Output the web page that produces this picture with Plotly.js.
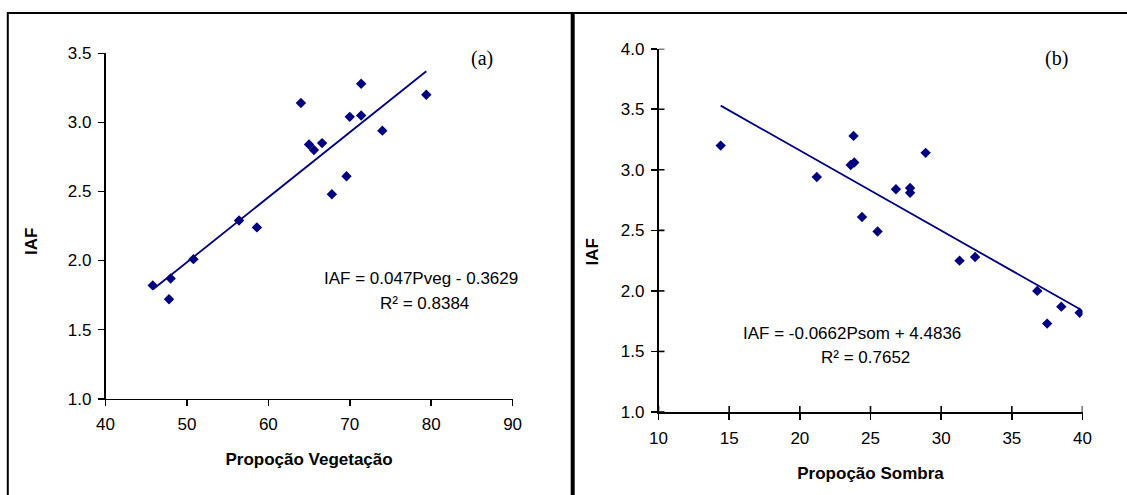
<!DOCTYPE html>
<html>
<head>
<meta charset="utf-8">
<script src="https://cdn.plot.ly/plotly-3.0.1.min.js"></script>
<style>html,body{margin:0;padding:0;background:#fff;}#chart{width:1127px;height:495px;}</style>
</head>
<body>
<div id="chart"></div>
<script>
// Panel (a): IAF vs Propoção Vegetação
const pveg = [45.8, 48.0, 47.8, 50.8, 56.4, 58.6, 64.0, 65.0, 65.6, 66.6, 67.8, 69.6, 70.0, 71.4, 71.4, 74.0, 79.4];
const iafA = [1.82, 1.87, 1.72, 2.01, 2.29, 2.24, 3.14, 2.84, 2.80, 2.85, 2.48, 2.61, 3.04, 3.28, 3.05, 2.94, 3.20];
const trendAx = [45.8, 79.4];
const trendAy = [1.79, 3.37];
// Panel (b): IAF vs Propoção Sombra
const psom = [14.4, 21.2, 23.6, 23.85, 23.8, 24.4, 25.5, 26.8, 27.8, 27.8, 28.9, 31.3, 32.4, 36.8, 37.5, 38.5, 39.8];
const iafB = [3.20, 2.94, 3.04, 3.06, 3.28, 2.61, 2.49, 2.84, 2.85, 2.81, 3.14, 2.25, 2.28, 2.00, 1.73, 1.87, 1.82];
const trendBx = [14.4, 39.8];
const trendBy = [3.53, 1.85];
// tick labels
const xTicksA = [40, 50, 60, 70, 80, 90];
const yTicksA = [1.0, 1.5, 2.0, 2.5, 3.0, 3.5];
const xTicksB = [10, 15, 20, 25, 30, 35, 40];
const yTicksB = [1.0, 1.5, 2.0, 2.5, 3.0, 3.5, 4.0];
const eqA = ["IAF = 0.047Pveg - 0.3629", "R² = 0.8384"];
const eqB = ["IAF = -0.0662Psom + 4.4836", "R² = 0.7652"];
const panelLabels = ["(a)", "(b)"];
const xTitles = ["Propoção Vegetação", "Propoção Sombra"];
const yTitle = "IAF";

const navy = "#000080";
const W = 1127, H = 495;
const px = v => v / W;
const py = v => 1 - v / H;
const sans = "Liberation Sans, Arial, sans-serif";
const tickFont = {family: sans, size: 17, color: "#000"};
const titleFont = {family: sans, size: 17, color: "#000", weight: "bold"};

const traces = [
  {x: trendAx, y: trendAy, mode: "lines", line: {color: navy, width: 1.8}, xaxis: "x", yaxis: "y", hoverinfo: "skip"},
  {x: pveg, y: iafA, mode: "markers", marker: {symbol: "diamond", size: 8, color: navy}, xaxis: "x", yaxis: "y"},
  {x: trendBx, y: trendBy, mode: "lines", line: {color: navy, width: 1.8}, xaxis: "x2", yaxis: "y2", hoverinfo: "skip"},
  {x: psom, y: iafB, mode: "markers", marker: {symbol: "diamond", size: 8, color: navy}, xaxis: "x2", yaxis: "y2"}
];

const axBase = {
  showgrid: false, zeroline: false, showline: true, linecolor: "#000", linewidth: 1.6,
  ticks: "outside", ticklen: 6, tickwidth: 1.6, tickcolor: "#000", tickfont: tickFont,
  fixedrange: true
};

// plot-area pixel boxes
const boxA = {l: 105.5, r: 512.6, t: 53.3, b: 398.7};
const boxB = {l: 658.5, r: 1082.5, t: 48.7, b: 412};

// inner half of the crossing ticks on panel (b)
const innerTicks = [];
xTicksB.forEach(v => innerTicks.push({type: "line", xref: "x2", yref: "paper", x0: v, x1: v, y0: py(boxB.b), y1: py(boxB.b - 6), line: {color: "#000", width: 1.6}}));
yTicksB.forEach(v => innerTicks.push({type: "line", xref: "paper", yref: "y2", x0: px(boxB.l), x1: px(boxB.l + 6), y0: v, y1: v, line: {color: "#000", width: 1.6}}));

const layout = {
  width: W, height: H,
  margin: {l: 0, r: 0, t: 0, b: 0},
  paper_bgcolor: "#fff", plot_bgcolor: "#fff",
  showlegend: false,
  xaxis: Object.assign({}, axBase, {domain: [px(boxA.l), px(boxA.r)], range: [40, 90], tickvals: xTicksA, ticktext: xTicksA.map(String), anchor: "y", ticklabelstandoff: 3, title: {text: xTitles[0], font: titleFont, standoff: 20}}),
  yaxis: Object.assign({}, axBase, {domain: [py(boxA.b), py(boxA.t)], range: [1, 3.5], tickvals: yTicksA, ticktext: yTicksA.map(v => v.toFixed(1)), anchor: "x", ticklabelstandoff: 3}),
  xaxis2: Object.assign({}, axBase, {domain: [px(boxB.l), px(boxB.r)], range: [10, 40], tickvals: xTicksB, ticktext: xTicksB.map(String), anchor: "y2", ticklabelstandoff: 4, title: {text: xTitles[1], font: titleFont, standoff: 20}}),
  yaxis2: Object.assign({}, axBase, {domain: [py(boxB.b), py(boxB.t)], range: [1, 4], tickvals: yTicksB, ticktext: yTicksB.map(v => v.toFixed(1)), anchor: "x2", ticklabelstandoff: 3}),
  annotations: [
    {xref: "paper", yref: "paper", x: px(31), y: py(242), text: yTitle, textangle: -90, showarrow: false, xanchor: "center", yanchor: "middle", font: titleFont},
    {xref: "paper", yref: "paper", x: px(592.5), y: py(252), text: yTitle, textangle: -90, showarrow: false, xanchor: "center", yanchor: "middle", font: titleFont},
    {xref: "paper", yref: "paper", x: px(482), y: py(59), text: panelLabels[0], showarrow: false, xanchor: "center", yanchor: "middle", font: {family: "Liberation Serif, Times New Roman, serif", size: 20, color: "#000"}},
    {xref: "paper", yref: "paper", x: px(1056.5), y: py(59), text: panelLabels[1], showarrow: false, xanchor: "center", yanchor: "middle", font: {family: "Liberation Serif, Times New Roman, serif", size: 20, color: "#000"}},
    {xref: "paper", yref: "paper", x: px(421), y: py(278), text: eqA[0], showarrow: false, xanchor: "center", yanchor: "middle", font: tickFont},
    {xref: "paper", yref: "paper", x: px(424), y: py(303), text: eqA[1], showarrow: false, xanchor: "center", yanchor: "middle", font: tickFont},
    {xref: "paper", yref: "paper", x: px(851.7), y: py(333.3), text: eqB[0], showarrow: false, xanchor: "center", yanchor: "middle", font: tickFont},
    {xref: "paper", yref: "paper", x: px(865), y: py(357.3), text: eqB[1], showarrow: false, xanchor: "center", yanchor: "middle", font: tickFont}
  ],
  shapes: [
    {type: "line", xref: "paper", yref: "paper", x0: px(7), x1: 1.01, y0: py(13), y1: py(13), line: {color: "#000", width: 2}},
    {type: "line", xref: "paper", yref: "paper", x0: px(7.8), x1: px(7.8), y0: py(12), y1: -0.01, line: {color: "#000", width: 2}},
    {type: "line", xref: "paper", yref: "paper", x0: px(572.7), x1: px(572.7), y0: py(12), y1: -0.01, line: {color: "#000", width: 4}}
  ].concat(innerTicks)
};

Plotly.newPlot("chart", traces, layout, {displayModeBar: false, staticPlot: true});
</script>
</body>
</html>
